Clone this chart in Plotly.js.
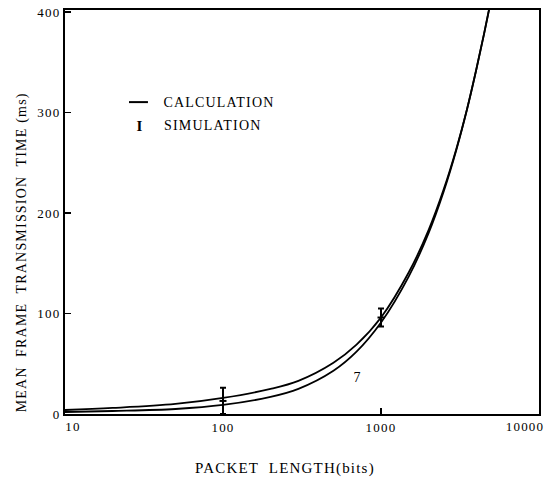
<!DOCTYPE html>
<html>
<head>
<meta charset="utf-8">
<script src="https://cdn.plot.ly/plotly-3.0.1.min.js"></script>
<style>
html,body{margin:0;padding:0;background:#fff;}
#chart{width:553px;height:480px;}
#chart svg text{letter-spacing:1.2px;}
</style>
</head>
<body>
<div id="chart"></div>
<script>
// Packet length (bits)
var packetLength = [10, 20, 50, 100, 200, 300, 500, 700, 1000, 1500, 2000, 2500, 3000, 3500, 4000, 4500, 5000, 5500];
// Calculation curves (ms)
var calcUpper = [4, 6, 10, 16, 25, 33, 51, 69, 96, 141, 183, 224, 264, 303, 342, 379, 414, 448];
var calcLower = [2, 3, 5, 9, 17, 25, 43, 62, 91, 137, 180, 222, 263, 303, 342, 379, 414, 448];
// Simulation points (ms) with error
var simLength = [100, 1000];
var simValue = [13, 96];
var simError = [13, 9];
// Tick labels
var xTicksMid = [100, 1000];
var xTickLow = [10];
var xTickHigh = [10000];
var yTicks = [0, 100, 200, 300, 400];

var serif = 'Liberation Serif, Times New Roman, serif';

var traces = [
  {x: packetLength, y: calcUpper, type: 'scatter', mode: 'lines', line: {color: '#000', width: 1.8, shape: 'spline'}, showlegend: false, hoverinfo: 'skip'},
  {x: packetLength, y: calcLower, type: 'scatter', mode: 'lines', line: {color: '#000', width: 1.8, shape: 'spline'}, showlegend: false, hoverinfo: 'skip'},
  {x: simLength, y: simValue, type: 'scatter', mode: 'markers', marker: {color: '#000', size: 5, symbol: 'line-ew', line: {color: '#000', width: 2}},
   error_y: {type: 'data', array: simError, visible: true, color: '#000', thickness: 2, width: 3}, showlegend: false, hoverinfo: 'skip'},
  // empty traces so that the overlaid tick-label axes are drawn
  {x: [], y: [], type: 'scatter', mode: 'lines', xaxis: 'x2', yaxis: 'y', showlegend: false, hoverinfo: 'skip'},
  {x: [], y: [], type: 'scatter', mode: 'lines', xaxis: 'x3', yaxis: 'y', showlegend: false, hoverinfo: 'skip'}
];

var baseX = {type: 'log', range: [1, 4], showgrid: false, zeroline: false, fixedrange: true, color: '#000'};
var tickFont = {family: serif, size: 13, color: '#000'};

var layout = {
  width: 553, height: 480,
  margin: {l: 65, r: 14, t: 10, b: 66},
  paper_bgcolor: '#fff', plot_bgcolor: '#fff',
  showlegend: false,
  font: {family: serif, color: '#000', size: 13},
  xaxis: Object.assign({}, baseX, {
    tickvals: xTicksMid, ticktext: xTicksMid.map(String),
    ticks: 'inside', ticklen: 6, tickwidth: 1.5, tickcolor: '#000',
    showline: true, linecolor: '#000', linewidth: 2, mirror: true,
    tickfont: tickFont
  }),
  xaxis2: Object.assign({}, baseX, {
    overlaying: 'x', anchor: 'y', side: 'bottom',
    tickvals: xTickLow, ticktext: xTickLow.map(String), ticks: '', showline: false,
    ticklabelshift: 8, ticklabelstandoff: 3,
    tickfont: tickFont
  }),
  xaxis3: Object.assign({}, baseX, {
    overlaying: 'x', anchor: 'y', side: 'bottom',
    tickvals: xTickHigh, ticktext: xTickHigh.map(String), ticks: '', showline: false,
    ticklabelshift: -14, ticklabelstandoff: 3,
    tickfont: tickFont
  }),
  yaxis: {
    range: [0, 402], showgrid: false, zeroline: false, fixedrange: true, color: '#000',
    tickvals: yTicks, ticktext: yTicks.map(String),
    ticks: 'inside', ticklen: 6, tickwidth: 1.5, tickcolor: '#000',
    showline: true, linecolor: '#000', linewidth: 2, mirror: true,
    tickfont: tickFont
  },
  annotations: [
    {text: 'MEAN  FRAME  TRANSMISSION  TIME (ms)', xref: 'paper', yref: 'paper', x: -0.09, y: 0.4,
     xanchor: 'center', yanchor: 'middle', textangle: -90, showarrow: false, font: {family: serif, size: 14, color: '#000'}},
    {text: 'PACKET  LENGTH(bits)', xref: 'paper', yref: 'paper', x: 0.465, y: -0.135,
     xanchor: 'center', yanchor: 'middle', showarrow: false, font: {family: serif, size: 15, color: '#000'}},
    {text: 'CALCULATION', xref: 'paper', yref: 'paper', x: 0.218, y: 0.772,
     xanchor: 'left', yanchor: 'middle', showarrow: false, font: {family: serif, size: 14, color: '#000'}},
    {text: 'SIMULATION', xref: 'paper', yref: 'paper', x: 0.218, y: 0.713,
     xanchor: 'left', yanchor: 'middle', showarrow: false, font: {family: serif, size: 14, color: '#000'}},
    {text: '<b>I</b>', xref: 'paper', yref: 'paper', x: 0.158, y: 0.713,
     xanchor: 'center', yanchor: 'middle', showarrow: false, font: {family: serif, size: 15, color: '#000'}},
    {text: '7', xref: 'x', yref: 'y', x: Math.log10(715), y: 36,
     xanchor: 'center', yanchor: 'middle', showarrow: false, font: {family: serif, size: 14, color: '#000'}}
  ],
  shapes: [
    {type: 'line', xref: 'paper', yref: 'paper', x0: 0.135, x1: 0.175, y0: 0.772, y1: 0.772, line: {color: '#000', width: 2}}
  ]
};

Plotly.newPlot('chart', traces, layout, {staticPlot: true, displayModeBar: false});
</script>
</body>
</html>
